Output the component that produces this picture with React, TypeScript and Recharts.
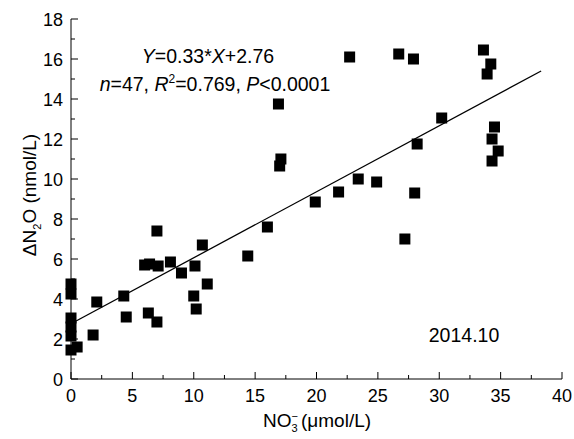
import React from 'react';
import { ScatterChart, Scatter, XAxis, YAxis, ReferenceLine } from 'recharts';

// NO3- (umol/L) vs dN2O (nmol/L), 2014.10 cruise
const no3 = [
  0, 0, 0, 0, 0, 0, 0.5, 1.8, 2.1, 4.3, 4.5, 6.0, 6.4, 7.1, 6.3, 7.0, 7.0, 8.1, 9.0, 10.1,
  10.7, 11.1, 10.0, 10.2, 14.4, 16.0, 16.9, 17.1, 17.0, 19.9, 21.8, 23.4, 24.9, 27.2, 28.0, 28.2,
  30.2, 22.7, 26.7, 27.9, 33.6, 34.2, 33.9, 34.5, 34.3, 34.8, 34.3,
];
const dN2O = [
  4.75, 4.25, 3.05, 2.6, 2.15, 1.45, 1.6, 2.2, 3.85, 4.15, 3.1, 5.7, 5.75, 5.65, 3.3, 2.85, 7.4, 5.85, 5.3, 5.65,
  6.7, 4.75, 4.15, 3.5, 6.15, 7.6, 13.75, 11.0, 10.65, 8.85, 9.35, 10.0, 9.85, 7.0, 9.3, 11.75,
  13.05, 16.1, 16.25, 16.0, 16.45, 15.75, 15.25, 12.6, 12.0, 11.4, 10.9,
];

// fitted line Y=0.33*X+2.76, end points
const fitX = [0.3, 38.3];
const fitY = [2.86, 15.4];

const xTicks = [0, 2.5, 5, 7.5, 10, 12.5, 15, 17.5, 20, 22.5, 25, 27.5, 30, 32.5, 35, 37.5, 40];
const yTicks = [0, 1, 2, 3, 4, 5, 6, 7, 8, 9, 10, 11, 12, 13, 14, 15, 16, 17, 18];

const points = no3.map((x, i) => ({ x, y: dN2O[i] }));

const FONT = '"Liberation Sans", Arial, sans-serif';

const Square = (props: any) => {
  const { cx, cy } = props;
  return <rect x={cx - 5.5} y={cy - 5.5} width={11} height={11} fill="#000" />;
};

const XTick = (props: any) => {
  const { x, y, payload } = props;
  const v = payload.value;
  const major = v % 5 === 0;
  return (
    <g>
      <line x1={x} x2={x} y1={y} y2={y - (major ? 7 : 4)} stroke="#000" />
      {major && (
        <text x={x} y={y + 23} textAnchor="middle" fontSize={18} fontFamily={FONT} fill="#000">
          {v}
        </text>
      )}
    </g>
  );
};

const YTick = (props: any) => {
  const { x, y, payload } = props;
  const v = payload.value;
  const major = v % 2 === 0;
  return (
    <g>
      <line x1={x} x2={x + (major ? 7 : 4)} y1={y} y2={y} stroke="#000" />
      {major && (
        <text x={x - 8} y={y + 6.5} textAnchor="end" fontSize={18} fontFamily={FONT} fill="#000">
          {v}
        </text>
      )}
    </g>
  );
};

export default function App() {
  return (
    <div style={{ position: 'absolute', left: 0, top: 0, width: 574, height: 439, background: '#fff' }}>
      <ScatterChart width={574} height={439} margin={{ top: 19, right: 12, left: 0, bottom: 0 }}>
        <XAxis
          type="number"
          dataKey="x"
          domain={[0, 40]}
          ticks={xTicks}
          interval={0}
          tickSize={0}
          tickMargin={0}
          tickLine={false}
          tick={<XTick />}
          axisLine={{ stroke: '#000' }}
          height={60}
        />
        <YAxis
          type="number"
          dataKey="y"
          domain={[0, 18]}
          ticks={yTicks}
          interval={0}
          tickSize={0}
          tickMargin={0}
          tickLine={false}
          tick={<YTick />}
          axisLine={{ stroke: '#000' }}
          width={71}
        />
        <ReferenceLine
          segment={[
            { x: fitX[0], y: fitY[0] },
            { x: fitX[1], y: fitY[1] },
          ]}
          stroke="#000"
          strokeWidth={1.3}
          ifOverflow="visible"
        />
        <Scatter data={points} shape={<Square />} isAnimationActive={false} />
      </ScatterChart>
      <svg
        width={574}
        height={439}
        style={{ position: 'absolute', left: 0, top: 0, pointerEvents: 'none' }}
        fontFamily={FONT}
        fill="#000"
      >
        <text x={208} y={63} textAnchor="middle" fontSize={19.5}>
          <tspan fontStyle="italic">Y</tspan>=0.33*<tspan fontStyle="italic">X</tspan>+2.76
        </text>
        <text x={215} y={91} textAnchor="middle" fontSize={19.5}>
          <tspan fontStyle="italic">n</tspan>=47, <tspan fontStyle="italic">R</tspan>
          <tspan fontSize={12} dy={-8}>2</tspan>
          <tspan dy={8}>=0.769, </tspan>
          <tspan fontStyle="italic">P</tspan>&lt;0.0001
        </text>
        <text x={464} y={342} textAnchor="middle" fontSize={19.5}>
          2014.10
        </text>
        <text x={317} y={427} textAnchor="middle" fontSize={19}>
          NO
          <tspan fontSize={11} dy={5}>3</tspan>
          <tspan fontSize={11} dx={-6} dy={-12}>−</tspan>
          <tspan dy={7} dx={3}>(μmol/L)</tspan>
        </text>
        <text x={0} y={0} textAnchor="middle" fontSize={19} transform="translate(36 195) rotate(-90)">
          ΔN
          <tspan fontSize={11} dy={5}>2</tspan>
          <tspan dy={-5}>O (nmol/L)</tspan>
        </text>
      </svg>
    </div>
  );
}
